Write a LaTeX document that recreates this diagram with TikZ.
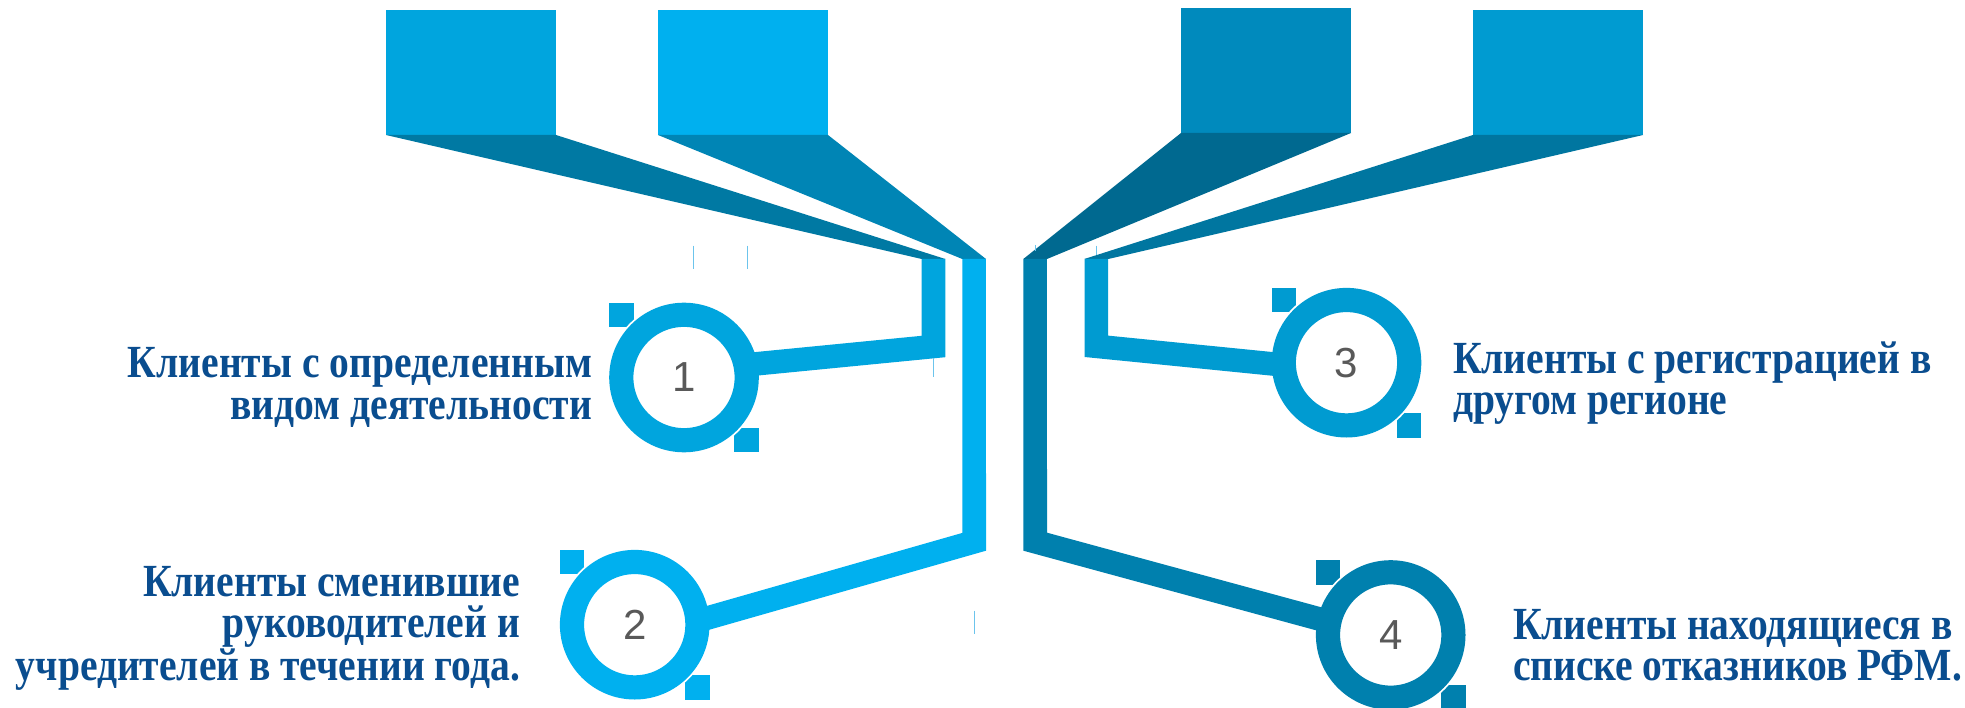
\documentclass[tikz,border=0pt]{standalone}
\usepackage{fontspec}
\usetikzlibrary{calc}
\setmainfont{Liberation Serif}
\newfontfamily\numfont{Liberation Sans}
\newfontfamily\lblfont[FakeStretch=0.86]{Liberation Serif}
\definecolor{sqA}{HTML}{00A5DE}
\definecolor{sqB}{HTML}{00B0EF}
\definecolor{sqC}{HTML}{008ABD}
\definecolor{sqD}{HTML}{009BD1}
\definecolor{trA}{HTML}{0079A3}
\definecolor{trB}{HTML}{0085B5}
\definecolor{trC}{HTML}{006990}
\definecolor{trD}{HTML}{0076A0}
\definecolor{lnA}{HTML}{00A5DE}
\definecolor{lnB}{HTML}{00B0EF}
\definecolor{lnC}{HTML}{0080AE}
\definecolor{lnD}{HTML}{009BD1}
\definecolor{txtblue}{HTML}{0A4D8F}
\definecolor{numgrey}{HTML}{595959}
\definecolor{tickblue}{HTML}{6CC4EC}
\tikzset{
  bigsq/.style={rectangle, inner sep=0pt, outer sep=0pt, minimum width=170pt, minimum height=125pt, anchor=north west},
  smallsq/.style={rectangle, inner sep=0pt, outer sep=0pt, minimum size=24.5pt},
  ring/.style={circle, inner sep=0pt, outer sep=0pt, minimum size=125.4pt, line width=24.2pt, fill=white, text=numgrey, font={\numfont\fontsize{42}{42}\selectfont}},
  conn/.style={line width=23.6pt, line join=miter},
  tickln/.style={draw=tickblue, line width=1pt},
  lbl/.style={inner sep=0pt, outer sep=0pt, text=txtblue, font={\lblfont\bfseries\fontsize{46}{41}\selectfont}},
}
\begin{document}
\begin{tikzpicture}[x=1pt,y=-1pt]
\useasboundingbox (0,0) rectangle (1965,708);
\fill[white] (0,0) rectangle (1965,708);
% big squares
\node[bigsq, fill=sqA] (s1) at (386,10) {};
\node[bigsq, fill=sqB] (s2) at (658,10) {};
\node[bigsq, fill=sqC] (s3) at (1181,8) {};
\node[bigsq, fill=sqD] (s4) at (1473,10) {};
% bar tops
\coordinate (b1l) at (921.7,259); \coordinate (b1r) at (945.3,259);
\coordinate (b2l) at (962.3,259); \coordinate (b2r) at (986,259);
\coordinate (b3l) at (1023.3,259); \coordinate (b3r) at (1047,259);
\coordinate (b4l) at (1084.3,259); \coordinate (b4r) at (1108.3,259);
% trapezoids
\fill[trA] (s1.south west) -- (s1.south east) -- (b1r) -- (b1l) -- cycle;
\fill[trB] (s2.south west) -- (s2.south east) -- (b2r) -- (b2l) -- cycle;
\fill[trC] (s3.south west) -- (s3.south east) -- (b3r) -- (b3l) -- cycle;
\fill[trD] (s4.south west) -- (s4.south east) -- (b4r) -- (b4l) -- cycle;
% circle centres
\coordinate (p1) at (684,377.5);
\coordinate (p2) at (634.7,624.7);
\coordinate (p3) at (1346.5,362.7);
\coordinate (p4) at (1390.7,635);
% small corner squares
\node[smallsq, fill=lnA, anchor=north west] (q1a) at (609.2,302.7) {};
\node[smallsq, fill=lnA, anchor=south east] (q1b) at (758.8,452.3) {};
\node[smallsq, fill=lnB, anchor=north west] (q2a) at (559.9,549.9) {};
\node[smallsq, fill=lnB, anchor=south east] (q2b) at (709.5,699.5) {};
\node[smallsq, fill=lnD, anchor=north west] (q3a) at (1271.7,287.9) {};
\node[smallsq, fill=lnD, anchor=south east] (q3b) at (1421.3,437.5) {};
\node[smallsq, fill=lnC, anchor=north west] (q4a) at (1315.9,560.2) {};
\node[smallsq, fill=lnC, anchor=south east] (q4b) at (1465.5,709.8) {};
% white gaps round the rings
\foreach \p in {p1,p2,p3,p4} \fill[white] (\p) circle[radius=76.6pt];
% bars and arms
\coordinate (k1) at (933.5,346.5); \coordinate (e1) at (683,371);
\coordinate (k2) at (974.2,541.8); \coordinate (e2) at (634.7,638.8);
\coordinate (k3) at (1035.2,541.7); \coordinate (e4) at (1390.7,638.4);
\coordinate (k4) at (1096.3,346.3); \coordinate (e3) at (1346.5,371.3);
\draw[conn, lnA] ($(b1l)!0.5!(b1r)$) -- (k1) -- (e1);
\draw[conn, lnB] ($(b2l)!0.5!(b2r)$) -- (k2) -- (e2);
\draw[conn, lnC] ($(b3l)!0.5!(b3r)$) -- (k3) -- (e4);
\draw[conn, lnD] ($(b4l)!0.5!(b4r)$) -- (k4) -- (e3);
% rings
\node[ring, draw=lnA] (n1) at (p1) {\raisebox{-3pt}{1}};
\node[ring, draw=lnB] (n2) at (p2) {\raisebox{-3pt}{2}};
\node[ring, draw=lnD] (n3) at (p3) {\raisebox{-3pt}{3}};
\node[ring, draw=lnC] (n4) at (p4) {\raisebox{-3pt}{4}};
% thin marks
\draw[tickln] (693.3,245.7) -- (693.3,269.3);
\draw[tickln] (747,245.7) -- (747,269.3);
\draw[tickln] (933.3,358) -- (933.3,376.7);
\draw[tickln] (974.3,610.7) -- (974.3,634);
\draw[tickln] (1096.7,245.7) -- (1096.7,255);
\draw[tickln] (1035.7,245) -- (1035.7,251);
% labels (base anchor = baseline of the last line)
\node[lbl, anchor=base east, align=right, font={\lblfont\bfseries\fontsize{46}{42}\selectfont}] (l1) at (592,420) {Клиенты с определенным\\видом деятельности};
\node[lbl, anchor=base east, align=right] (l2) at (520,680) {Клиенты сменившие\\руководителей и\\учредителей в течении года.};
\node[lbl, anchor=base west, align=left] (l3) at (1453,414) {Клиенты с регистрацией в\\другом регионе};
\node[lbl, anchor=base west, align=left] (l4) at (1513,680) {Клиенты находящиеся в\\списке отказников РФМ.};
\end{tikzpicture}
\end{document}
